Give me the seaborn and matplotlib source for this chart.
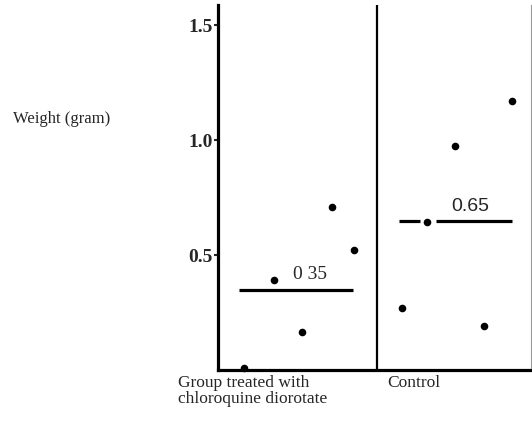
import matplotlib
matplotlib.use("Agg")
import matplotlib.pyplot as plt
import seaborn as sns
import pandas as pd

# ---- data ----
groups = ["Group treated with\nchloroquine diorotate"] * 5 + ["Control"] * 5
weights = [0.71, 0.52, 0.39, 0.165, 0.01,
           1.17, 0.975, 0.645, 0.27, 0.19]
x_positions = [0.717, 0.853, 0.352, 0.526, 0.164,
               1.853, 1.492, 1.314, 1.157, 1.673]
group_names = ["Group treated with\nchloroquine diorotate", "Control"]
group_means = [0.35, 0.65]
mean_labels = ["0 35", "0.65"]
y_ticks = [0.5, 1.0, 1.5]
y_tick_labels = ["0.5", "1.0", "1.5"]
y_label = "Weight (gram)"

df = pd.DataFrame({"group": groups, "weight": weights, "x": x_positions})

sns.set_style("white")
plt.rcParams["font.family"] = ["Liberation Serif", "DejaVu Serif"]

fig = plt.figure(figsize=(5.32, 4.22), dpi=100)
ax = fig.add_axes([218 / 532, (422 - 370) / 422, (531 - 218) / 532, 365 / 422])

sns.scatterplot(data=df, x="x", y="weight", ax=ax, color="black", s=30,
                edgecolor="black", linewidth=0, legend=False, zorder=3,
                clip_on=False)

# mean lines
ax.hlines(group_means[0], 0.132, 0.849, color="black", lw=2.3)
ax.hlines(group_means[1], 1.138, 1.27, color="black", lw=2.3)
ax.hlines(group_means[1], 1.371, 1.849, color="black", lw=2.3)
ax.text(0.58, group_means[0] + 0.03, mean_labels[0], ha="center", va="bottom",
        fontsize=14)
ax.text(1.59, group_means[1] + 0.025, mean_labels[1], ha="center", va="bottom",
        fontsize=14, family=["Liberation Sans", "DejaVu Sans"])

# separator between groups
ax.axvline(1.0, color="black", lw=1.6)

ax.set_xlim(0, 1.97)
ax.set_ylim(0, 1.587)
ax.set_yticks(y_ticks)
ax.set_yticklabels(y_tick_labels, fontsize=14, fontweight="bold")
ax.tick_params(axis="y", direction="out", length=3, width=1.5, pad=1, left=True)
ax.set_xticks([])
ax.set_xlabel("")
ax.set_ylabel("")

for side in ["left", "bottom"]:
    ax.spines[side].set_linewidth(2.3)
    ax.spines[side].set_color("black")
ax.spines["top"].set_visible(False)
ax.spines["right"].set_color("#999999")
ax.spines["right"].set_linewidth(0.8)

fig.text(13 / 532, 1 - 119 / 422, y_label, ha="left", va="center", fontsize=12)
fig.text(178 / 532, 1 - 375 / 422, group_names[0], ha="left", va="top",
         fontsize=12.5, linespacing=1.0)
fig.text(387 / 532, 1 - 375 / 422, group_names[1], ha="left", va="top",
         fontsize=12.5)

fig.savefig("out.png", dpi=100)
